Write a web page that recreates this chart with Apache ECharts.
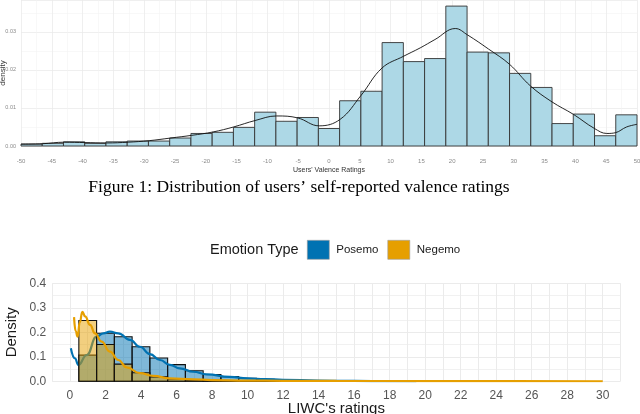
<!DOCTYPE html>
<html>
<head>
<meta charset="utf-8">
<script src="https://cdn.jsdelivr.net/npm/echarts@6/dist/echarts.min.js"></script>
<style>
html, body { margin: 0; padding: 0; background: #fff; }
#chart { width: 640px; height: 414px; }
</style>
</head>
<body>
<div id="chart"></div>
<script>
// Figure 1: valence histogram (29 bins from -50 to 50)
const valenceBinStart = -50
const valenceBinWidth = 100 / 29
const valenceDensity = [0.0005, 0.0007, 0.0011, 0.0007, 0.0011, 0.0013, 0.0013, 0.0021, 0.0033, 0.0036,
  0.0049, 0.0089, 0.0065, 0.0075, 0.0046, 0.0119, 0.0144, 0.0272, 0.0222, 0.0230,
  0.0368, 0.0247, 0.0245, 0.0191, 0.0154, 0.0059, 0.0084, 0.0027, 0.0082]
const valenceKde = [[-50, 0.0005], [-46.5, 0.0006], [-43, 0.0010], [-39.6, 0.0009], [-36.1, 0.0008],
  [-32.6, 0.0010], [-29.2, 0.0014], [-25.7, 0.0021], [-22.3, 0.0028], [-18.8, 0.0037],
  [-15.5, 0.0050], [-12, 0.0067], [-8.5, 0.0079], [-5.1, 0.0074], [-1.6, 0.0053],
  [1.8, 0.0070], [5.2, 0.0133], [8.6, 0.0205], [12.1, 0.0236], [14.8, 0.0258],
  [17.2, 0.0280], [20.5, 0.0309], [22.5, 0.0292], [25.9, 0.0255], [29.3, 0.0215],
  [32.7, 0.0158], [36.2, 0.0116], [39.7, 0.0083], [43.1, 0.0046], [45.1, 0.0033],
  [46.5, 0.0035], [48.3, 0.0050], [50, 0.0057]]

// LIWC histogram (bins of width 1 centred on integers)
const liwcBins = [1, 2, 3, 4, 5, 6, 7, 8, 9, 10, 11, 12]
const posemoDensity = [0.107, 0.196, 0.182, 0.141, 0.095, 0.068, 0.043, 0.028, 0.019, 0.012, 0.008, 0.005]
const negemoDensity = [0.248, 0.150, 0.070, 0.035, 0.018, 0.010, 0.006, 0.004, 0.003, 0.002, 0.0015, 0.001]
const posemoKde = [[0.05, 0.135], [0.28, 0.094], [0.47, 0.067], [0.94, 0.107], [1.5, 0.182],
  [1.88, 0.196], [2.25, 0.203], [2.72, 0.196], [3.38, 0.169], [3.94, 0.141], [4.5, 0.111],
  [5.07, 0.087], [5.63, 0.067], [6.19, 0.053], [6.94, 0.039], [7.7, 0.028], [9, 0.018],
  [10, 0.012], [11, 0.009], [12, 0.006], [14, 0.003], [16, 0.0015], [18, 0.0005], [19.5, 0.0002]]
const negemoKde = [[0.23, 0.262], [0.32, 0.205], [0.43, 0.182], [0.55, 0.24], [0.7, 0.283],
  [0.85, 0.265], [1.13, 0.23], [1.41, 0.196], [1.78, 0.162], [2.25, 0.121], [2.72, 0.087],
  [3.19, 0.057], [3.94, 0.033], [4.69, 0.022], [5.63, 0.012], [6.94, 0.008], [8, 0.005],
  [10, 0.003], [12, 0.002], [15, 0.0015], [20, 0.001], [25, 0.0006], [30, 0.0003]]

const gridColor = '#ebebeb'
const minorColor = '#f4f4f4'

// bars drawn from [start, end, height] through the axis scales
function histItem (params, api) {
  const p0 = api.coord([api.value(0), api.value(2)])
  const p1 = api.coord([api.value(1), 0])
  return {
    type: 'rect',
    shape: { x: p0[0], y: p0[1], width: p1[0] - p0[0], height: p1[1] - p0[1] },
    style: api.style()
  }
}

const valenceBars = valenceDensity.map((d, i) => [
  valenceBinStart + i * valenceBinWidth,
  valenceBinStart + (i + 1) * valenceBinWidth,
  d
])
const posemoBars = liwcBins.map((b, i) => [b - 0.5, b + 0.5, posemoDensity[i]])
const negemoBars = liwcBins.map((b, i) => [b - 0.5, b + 0.5, negemoDensity[i]])

const myChart = echarts.init(document.getElementById('chart'), null, { renderer: 'canvas' })

const option = {
  animation: false,
  textStyle: { fontFamily: 'Liberation Sans, Arial, sans-serif' },
  grid: [
    { left: 21, top: 0, width: 616, height: 146, containLabel: false, outerBoundsMode: 'none' },
    { left: 52.2, top: 283.3, width: 568.3, height: 98, containLabel: false, outerBoundsMode: 'none' }
  ],
  legend: {
    left: 307,
    top: 240,
    padding: 0,
    itemWidth: 22,
    itemHeight: 19,
    itemGap: 9,
    selectedMode: false,
    textStyle: { fontSize: 11.5, color: '#1a1a1a', padding: [0, 0, 0, 2] },
    data: [
      { name: 'Posemo', icon: 'rect', itemStyle: { color: '#0072B2', borderColor: '#9a9a9a', borderWidth: 0.6 } },
      { name: 'Negemo', icon: 'rect', itemStyle: { color: '#E69F00', borderColor: '#9a9a9a', borderWidth: 0.6 } }
    ]
  },
  graphic: [
    {
      type: 'text',
      left: 210,
      top: 242,
      style: { text: 'Emotion Type', fontSize: 14.5, fill: '#1a1a1a', fontFamily: 'Liberation Sans' }
    },
    {
      type: 'text',
      x: 299,
      y: 187,
      style: {
        text: 'Figure 1: Distribution of users’ self-reported valence ratings',
        fontSize: 17.5,
        fill: '#000',
        fontFamily: 'Liberation Serif, Times New Roman, serif',
        align: 'center',
        verticalAlign: 'middle'
      }
    }
  ],
  xAxis: [
    {
      type: 'value',
      gridIndex: 0,
      min: -50,
      max: 50,
      interval: 5,
      axisLine: { show: false },
      axisTick: { show: false },
      axisLabel: { fontSize: 6, color: '#8a8a8a', margin: 12, fontFamily: 'Liberation Sans Narrow, Liberation Sans' },
      splitLine: { show: true, lineStyle: { color: gridColor, width: 0.8 } },
      minorTick: { show: false, splitNumber: 2 },
      minorSplitLine: { show: true, lineStyle: { color: minorColor, width: 0.6 } },
      name: "Users' Valence Ratings",
      nameLocation: 'middle',
      nameGap: 21,
      nameMoveOverlap: false,
      nameTextStyle: { fontSize: 7, color: '#333', fontFamily: 'Liberation Sans Narrow, Liberation Sans' }
    },
    {
      type: 'value',
      gridIndex: 1,
      min: -1,
      max: 31,
      interval: 1,
      axisLine: { show: false },
      axisTick: { show: false },
      axisLabel: {
        fontSize: 12,
        color: '#555',
        margin: 8,
        formatter: (v) => (v >= 0 && v <= 30 && v % 2 === 0) ? String(v) : ''
      },
      splitLine: { show: true, lineStyle: { color: gridColor, width: 1 } },
      name: "LIWC's ratings",
      nameLocation: 'middle',
      nameGap: 20,
      nameMoveOverlap: false,
      nameTextStyle: { fontSize: 15, color: '#1a1a1a' }
    }
  ],
  yAxis: [
    {
      type: 'value',
      gridIndex: 0,
      min: 0,
      max: 0.0384,
      interval: 0.01,
      axisLine: { show: false },
      axisTick: { show: false },
      axisLabel: {
        fontSize: 5.5,
        color: '#8a8a8a',
        margin: 5,
        showMaxLabel: false,
        fontFamily: 'Liberation Sans Narrow, Liberation Sans',
        formatter: (v) => v.toFixed(2)
      },
      splitLine: { show: true, lineStyle: { color: gridColor, width: 0.8 } },
      minorTick: { show: false, splitNumber: 2 },
      minorSplitLine: { show: true, lineStyle: { color: minorColor, width: 0.6 } },
      name: 'density',
      nameLocation: 'middle',
      nameGap: 14,
      nameMoveOverlap: false,
      nameTextStyle: { fontSize: 8, color: '#333' }
    },
    {
      type: 'value',
      gridIndex: 1,
      min: 0,
      max: 0.4,
      interval: 0.1,
      axisLine: { show: false },
      axisTick: { show: false },
      axisLabel: { fontSize: 12, color: '#555', margin: 6, formatter: (v) => v.toFixed(1) },
      splitLine: { show: true, lineStyle: { color: gridColor, width: 1 } },
      minorTick: { show: false, splitNumber: 2 },
      minorSplitLine: { show: true, lineStyle: { color: gridColor, width: 0.7 } },
      name: 'Density',
      nameLocation: 'middle',
      nameGap: 33,
      nameMoveOverlap: false,
      nameTextStyle: { fontSize: 15, color: '#1a1a1a' }
    }
  ],
  series: [
    {
      name: 'Valence',
      type: 'custom',
      xAxisIndex: 0,
      yAxisIndex: 0,
      renderItem: histItem,
      encode: { x: [0, 1], y: 2 },
      itemStyle: { color: '#ADD8E6', borderColor: '#333', borderWidth: 0.9 },
      data: valenceBars,
      z: 2
    },
    {
      name: 'Valence density',
      type: 'line',
      xAxisIndex: 0,
      yAxisIndex: 0,
      smooth: 0.4,
      showSymbol: false,
      lineStyle: { color: '#111', width: 0.9 },
      data: valenceKde,
      z: 3
    },
    {
      name: 'Posemo',
      type: 'custom',
      xAxisIndex: 1,
      yAxisIndex: 1,
      renderItem: histItem,
      encode: { x: [0, 1], y: 2 },
      itemStyle: { color: 'rgba(0, 114, 178, 0.5)', borderColor: '#111', borderWidth: 1.1 },
      data: posemoBars,
      z: 2
    },
    {
      name: 'Posemo density',
      type: 'line',
      xAxisIndex: 1,
      yAxisIndex: 1,
      smooth: 0.5,
      smoothMonotone: 'x',
      showSymbol: false,
      lineStyle: { color: '#0072B2', width: 2.2 },
      data: posemoKde,
      z: 3
    },
    {
      name: 'Negemo',
      type: 'custom',
      xAxisIndex: 1,
      yAxisIndex: 1,
      renderItem: histItem,
      encode: { x: [0, 1], y: 2 },
      itemStyle: { color: 'rgba(230, 159, 0, 0.5)', borderColor: '#111', borderWidth: 1.1 },
      data: negemoBars,
      z: 4
    },
    {
      name: 'Negemo density',
      type: 'line',
      xAxisIndex: 1,
      yAxisIndex: 1,
      smooth: 0.5,
      smoothMonotone: 'x',
      showSymbol: false,
      lineStyle: { color: '#E69F00', width: 2.2 },
      data: negemoKde,
      z: 5
    }
  ]
}

myChart.setOption(option)
</script>
</body>
</html>
